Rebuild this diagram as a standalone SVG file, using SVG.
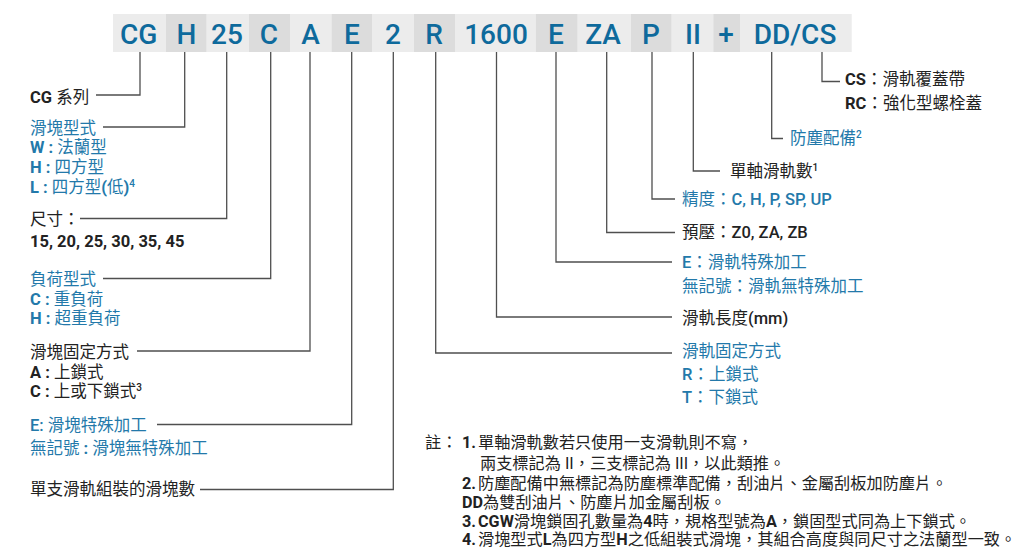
<svg xmlns="http://www.w3.org/2000/svg" width="1027" height="556" viewBox="0 0 1027 556">
<style>
  .bl { fill: #ececec; }
  .bd { fill: #dcdcdc; }
  .code { font-family: Roboto, "Noto Sans CJK TC", sans-serif; font-size: 28px; font-weight: 500; fill: #0e6a9c; text-anchor: middle; }
  .t { font-family: Roboto, "Noto Sans CJK TC", sans-serif; font-size: 16.5px; fill: #222; }
  .blue { fill: #2379aa; }
  .b { font-weight: 700; }
  .m { font-weight: 500; }
  .sup { font-size: 10px; font-weight: 500; }
  .n { font-family: Roboto, "Noto Sans CJK TC", sans-serif; font-size: 16.2px; fill: #222; }
  .conn path { fill: none; stroke: #4f4f4f; stroke-width: 1.3; }
</style>
<rect width="1027" height="556" fill="#ffffff"/>

<g id="header">
  <rect class="bl" x="113" y="14" width="53" height="38"/>
  <rect class="bd" x="166" y="14" width="40.7" height="38"/>
  <rect class="bl" x="206.7" y="14" width="42.3" height="38"/>
  <rect class="bd" x="249" y="14" width="41" height="38"/>
  <rect class="bl" x="290" y="14" width="41.5" height="38"/>
  <rect class="bd" x="331.5" y="14" width="41" height="38"/>
  <rect class="bl" x="372.5" y="14" width="41.5" height="38"/>
  <rect class="bd" x="414" y="14" width="41" height="38"/>
  <rect class="bl" x="455" y="14" width="80.7" height="38"/>
  <rect class="bd" x="535.7" y="14" width="42" height="38"/>
  <rect class="bl" x="577.7" y="14" width="53.3" height="38"/>
  <rect class="bd" x="631" y="14" width="40.7" height="38"/>
  <rect class="bl" x="671.7" y="14" width="41.6" height="38"/>
  <rect class="bd" x="713.3" y="14" width="26.7" height="38"/>
  <rect class="bl" x="740" y="14" width="111.7" height="38"/>
  <text class="code" x="138.7" y="43.5">CG</text>
  <text class="code" x="186.5" y="43.5">H</text>
  <text class="code" x="227" y="43.5">25</text>
  <text class="code" x="269" y="43.5">C</text>
  <text class="code" x="310.5" y="43.5">A</text>
  <text class="code" x="352" y="43.5">E</text>
  <text class="code" x="393" y="43.5">2</text>
  <text class="code" x="434" y="43.5">R</text>
  <text class="code" x="496" y="43.5">1600</text>
  <text class="code" x="556" y="43.5">E</text>
  <text class="code" x="603" y="43.5">ZA</text>
  <text class="code" x="651" y="43.5">P</text>
  <text class="code" x="693" y="43.5">II</text>
  <text class="code" x="726" y="43.5">+</text>
  <text class="code" x="795" y="43.5">DD/CS</text>
</g>

<g id="connectors" class="conn">
  <path d="M140,52 V95 H96"/>
  <path d="M184.7,52 V127 H103"/>
  <path d="M226.7,52 V218.5 H80"/>
  <path d="M270.7,52 V278.5 H103"/>
  <path d="M310,52 V351 H137"/>
  <path d="M351.7,52 V424.5 H157"/>
  <path d="M393.3,52 V489.5 H200"/>
  <path d="M435.7,52 V353 H672"/>
  <path d="M496.5,52 V317 H672"/>
  <path d="M556,52 V262 H672"/>
  <path d="M606.7,52 V232.5 H675"/>
  <path d="M652,52 V199 H675"/>
  <path d="M693.3,52 V171 H720"/>
  <path d="M771.7,52 V138.5 H783"/>
  <path d="M822,52 V81.5 H840"/>
</g>

<g id="cg-series">
  <text class="t" x="30" y="102.5"><tspan class="b">CG</tspan> 系列</text>
</g>
<g id="block-type">
  <text class="t blue" x="30" y="133.5">滑塊型式</text>
  <text class="t blue" x="30" y="153"><tspan class="b">W : </tspan>法蘭型</text>
  <text class="t blue" x="30" y="173"><tspan class="b">H : </tspan>四方型</text>
  <text class="t blue" x="30" y="192.5"><tspan class="b">L : </tspan>四方型<tspan class="b">(</tspan>低<tspan class="b">)</tspan><tspan class="sup" dy="-6">4</tspan></text>
</g>
<g id="size">
  <text class="t" x="30" y="225">尺寸：</text>
  <text class="t b" x="30" y="246.5">15, 20, 25, 30, 35, 45</text>
</g>
<g id="load-type">
  <text class="t blue" x="30" y="285">負荷型式</text>
  <text class="t blue" x="30" y="304.5"><tspan class="b">C : </tspan>重負荷</text>
  <text class="t blue" x="30" y="324"><tspan class="b">H : </tspan>超重負荷</text>
</g>
<g id="block-mount">
  <text class="t" x="30" y="357.5">滑塊固定方式</text>
  <text class="t" x="30" y="377.5"><tspan class="b">A : </tspan>上鎖式</text>
  <text class="t" x="30" y="397"><tspan class="b">C : </tspan>上或下鎖式<tspan class="sup" dy="-6">3</tspan></text>
</g>
<g id="block-special">
  <text class="t blue" x="30" y="431"><tspan class="m">E:</tspan> 滑塊特殊加工</text>
  <text class="t blue" x="30" y="454">無記號<tspan class="b"> : </tspan>滑塊無特殊加工</text>
</g>
<g id="blocks-per-rail">
  <text class="t" x="30" y="495">單支滑軌組裝的滑塊數</text>
</g>

<g id="cover">
  <text class="t" x="845" y="84.5"><tspan class="b">CS</tspan>：滑軌覆蓋帶</text>
  <text class="t" x="845" y="108.5"><tspan class="b">RC</tspan>：強化型螺栓蓋</text>
</g>
<g id="dust">
  <text class="t blue" x="790" y="144">防塵配備<tspan class="sup" dy="-6">2</tspan></text>
</g>
<g id="rails-per-axis">
  <text class="t" x="730" y="176.5">單軸滑軌數<tspan class="sup" dy="-6">1</tspan></text>
</g>
<g id="accuracy">
  <text class="t blue" x="682" y="205">精度：<tspan class="m">C, H, P, SP, UP</tspan></text>
</g>
<g id="preload">
  <text class="t" x="682" y="238">預壓：<tspan class="m">Z0, ZA, ZB</tspan></text>
</g>
<g id="rail-special">
  <text class="t blue" x="682" y="268"><tspan class="m">E</tspan>：滑軌特殊加工</text>
  <text class="t blue" x="682" y="292">無記號：滑軌無特殊加工</text>
</g>
<g id="rail-length">
  <text class="t" x="682" y="323.5">滑軌長度<tspan class="m">(mm)</tspan></text>
</g>
<g id="rail-mount">
  <text class="t blue" x="682" y="356.5">滑軌固定方式</text>
  <text class="t blue" x="682" y="379.5"><tspan class="m">R</tspan>：上鎖式</text>
  <text class="t blue" x="682" y="402.5"><tspan class="m">T</tspan>：下鎖式</text>
</g>

<g id="notes">
  <text class="n" x="425" y="448">註：</text>
  <text class="n" x="462" y="448"><tspan class="b">1.</tspan></text>
  <text class="n" x="478" y="448">單軸滑軌數若只使用一支滑軌則不寫，</text>
  <text class="n" x="480" y="469">兩支標記為 II，三支標記為 III，以此類推。</text>
  <text class="n" x="462" y="488.5"><tspan class="b">2.</tspan></text>
  <text class="n" x="478" y="488.5">防塵配備中無標記為防塵標準配備，刮油片、金屬刮板加防塵片。</text>
  <text class="n" x="462" y="507.5"><tspan class="b">DD</tspan>為雙刮油片、防塵片加金屬刮板。</text>
  <text class="n" x="462" y="526.5"><tspan class="b">3.</tspan></text>
  <text class="n" x="478" y="526.5"><tspan class="b">CGW</tspan>滑塊鎖固孔數量為<tspan class="b">4</tspan>時，規格型號為<tspan class="b">A</tspan>，鎖固型式同為上下鎖式。</text>
  <text class="n" x="462" y="545"><tspan class="b">4.</tspan></text>
  <text class="n" x="478" y="545">滑塊型式<tspan class="b">L</tspan>為四方型<tspan class="b">H</tspan>之低組裝式滑塊，其組合高度與同尺寸之法蘭型一致。</text>
</g>
</svg>
